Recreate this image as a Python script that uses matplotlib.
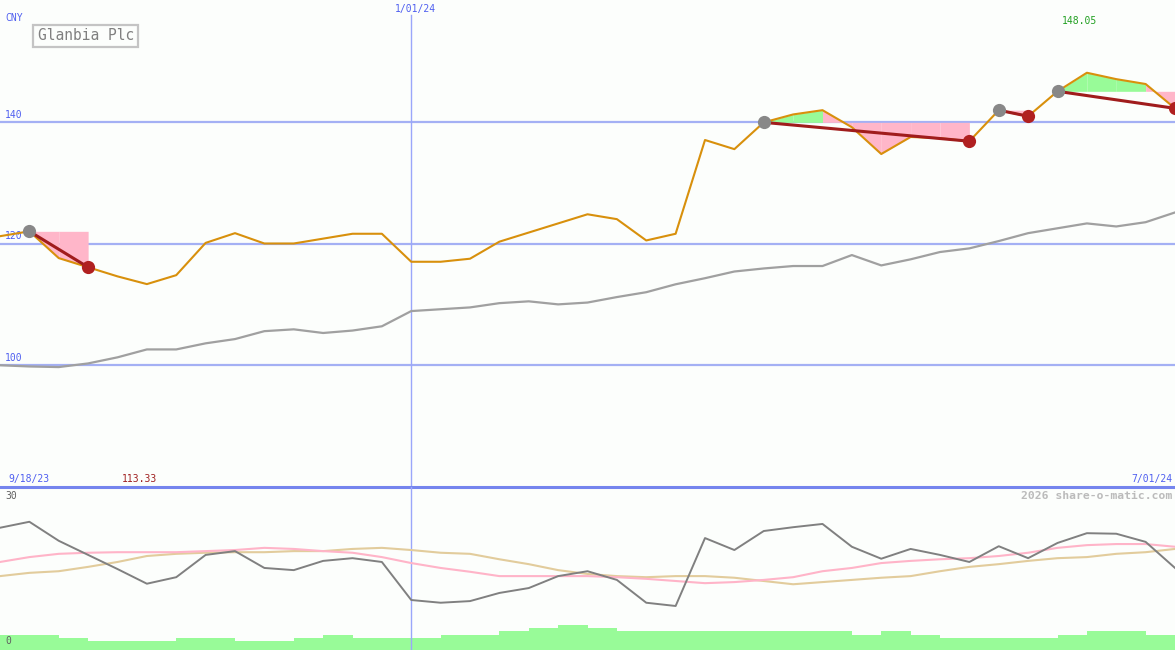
import matplotlib
matplotlib.use("Agg")
import matplotlib.pyplot as plt
import matplotlib.transforms as mtransforms
from matplotlib.patches import Rectangle
import numpy as np

# ---------------- data ----------------
title = "Glanbia Plc"
currency = "CNY"
date_labels = ["9/18/23", "1/01/24", "7/01/24"]
year_start_index = 14

price = [121.2, 122.0, 117.6, 116.1, 114.6, 113.33, 114.8, 120.1, 121.7, 120.0,
         120.0, 120.8, 121.6, 121.6, 117.0, 117.0, 117.5, 120.3, 121.8, 123.3,
         124.8, 124.0, 120.5, 121.6, 137.0, 135.5, 139.9, 141.2, 141.9, 139.1,
         134.7, 137.5, 137.3, 136.8, 141.9, 140.9, 145.0, 148.05, 147.0, 146.2,
         142.2]

index_line = [100.0, 99.8, 99.7, 100.3, 101.3, 102.6, 102.6, 103.6, 104.3, 105.6,
              105.9, 105.3, 105.7, 106.4, 108.9, 109.2, 109.5, 110.2, 110.5, 110.0,
              110.3, 111.2, 112.0, 113.3, 114.3, 115.4, 115.9, 116.3, 116.3, 118.1,
              116.4, 117.4, 118.6, 119.2, 120.4, 121.7, 122.5, 123.3, 122.8, 123.5,
              125.1]

# trades: (entry index, exit index)
trades = [(1, 3), (26, 33), (34, 35), (36, 40)]

price_ticks = [100, 120, 140]

osc = [22.5, 23.6, 20.1, 17.5, 14.9, 12.2, 13.4, 17.5, 18.2, 15.1,
       14.7, 16.4, 16.9, 16.2, 9.2, 8.7, 9.0, 10.5, 11.4, 13.6,
       14.5, 12.9, 8.7, 8.1, 20.6, 18.4, 21.9, 22.6, 23.2, 19.0,
       16.8, 18.6, 17.5, 16.2, 19.1, 16.9, 19.7, 21.5, 21.4, 19.9,
       15.1]

osc_fast = [16.2, 17.1, 17.7, 17.9, 18.0, 18.0, 18.0, 18.2, 18.4, 18.8,
            18.6, 18.2, 17.9, 17.1, 16.0, 15.1, 14.4, 13.6, 13.6, 13.6,
            13.6, 13.4, 13.1, 12.7, 12.3, 12.5, 12.9, 13.4, 14.5, 15.1,
            16.0, 16.4, 16.7, 16.9, 17.3, 17.9, 18.8, 19.3, 19.5, 19.5,
            19.0]

osc_slow = [13.6, 14.2, 14.5, 15.3, 16.2, 17.3, 17.7, 17.9, 18.0, 18.0,
            18.2, 18.2, 18.6, 18.8, 18.4, 17.9, 17.7, 16.7, 15.8, 14.7,
            14.0, 13.6, 13.4, 13.6, 13.6, 13.3, 12.7, 12.1, 12.5, 12.9,
            13.3, 13.6, 14.5, 15.3, 15.8, 16.4, 16.9, 17.1, 17.7, 18.0,
            18.6]

volume = [15, 15, 12, 9, 9, 9, 12, 12, 9, 9, 12, 15, 12, 12, 12, 15, 15, 19, 22, 25,
          22, 19, 19, 19, 19, 19, 19, 19, 19, 15, 19, 15, 12, 12, 12, 12, 15, 19, 19, 15]

osc_ticks = [0, 30]
watermark = "2026 share-o-matic.com"

# ---------------- style ----------------
BG = "#fcfefc"
GRID = "#a4b0f4"
VLINE = "#9aa6fa"
SEP = "#7585ee"
LBL = "#4f5ff0"
ORANGE = "#d8900c"
GREY = "#a0a0a0"
TRADE = "#a01c1c"
PINK = "#ffb6c9"
GREEN = "#98fb98"
FONT = "DejaVu Sans Mono"

W, H = 1175, 650
top_h, bot_h = 487, 163

fig = plt.figure(figsize=(W / 100, H / 100), dpi=100, facecolor=BG)
ax = fig.add_axes([0, bot_h / H, 1, top_h / H])
ax2 = fig.add_axes([0, 0, 1, bot_h / H])
for a in (ax, ax2):
    a.set_facecolor(BG)
    a.set_axis_off()
    a.set_xlim(0, len(price) - 1)

x = np.arange(len(price))
p = np.array(price)

ax.set_ylim(80, 160)
ax2.set_ylim(0, 30)

# grid
for t in price_ticks:
    ax.axhline(t, color=GRID, lw=1.6, zorder=1)
    ax.text(0.004, t + 0.35, str(t), transform=mtransforms.blended_transform_factory(ax.transAxes, ax.transData),
            color=LBL, fontsize=7, family=FONT, va="bottom", ha="left")
ax.axhline(80, color=SEP, lw=2.2, zorder=6, clip_on=False)

# vertical year line
ax.plot([year_start_index, year_start_index], [80, 160 - 15 / (top_h / 80)], color=VLINE, lw=1.0, zorder=1)
ax2.axvline(year_start_index, color=VLINE, lw=1.0, zorder=1)

# trade fills
for s, e in trades:
    lvl = p[s]
    for i in range(s, e):
        col = GREEN if p[i + 1] >= lvl else PINK
        ax.fill_between([x[i], x[i + 1]], [lvl, lvl], [p[i], p[i + 1]], color=col, lw=0, zorder=2)

ax.plot(x, index_line, color=GREY, lw=1.6, zorder=3)
ax.plot(x, p, color=ORANGE, lw=1.5, zorder=4)

for s, e in trades:
    ax.plot([x[s], x[e]], [p[s], p[e]], color=TRADE, lw=2.2, zorder=5, solid_capstyle="butt")
    ax.plot(x[s], p[s], "o", ms=9.5, color="#888888", zorder=6, mec="none")
    ax.plot(x[e], p[e], "o", ms=9.5, color="#b02020", zorder=6, mec="none")

# labels
blend = mtransforms.blended_transform_factory(ax.transData, ax.transAxes)
imax = int(np.argmax(p)); imin = int(np.argmin(p))
ax.text(imax - 0.25, 1 - 21 / top_h, f"{p[imax]:.2f}", transform=blend, color="#22a022",
        fontsize=7, family=FONT, ha="center", va="center")
ax.text(imin - 0.25, 8 / top_h, f"{p[imin]:.2f}", transform=blend, color="#a02020",
        fontsize=7, family=FONT, ha="center", va="center")

ax.text(5 / W, 1 - 18 / top_h, currency, transform=ax.transAxes, color=LBL, fontsize=7, family=FONT, va="center")
ax.text(year_start_index + 0.15, 1 - 9 / top_h, date_labels[1], transform=blend, color=LBL, fontsize=7,
        family=FONT, ha="center", va="center")
ax.text(8 / W, 8 / top_h, date_labels[0], transform=ax.transAxes, color=LBL, fontsize=7, family=FONT, va="center")
ax.text(1 - 3 / W, 8 / top_h, date_labels[2], transform=ax.transAxes, color=LBL, fontsize=7, family=FONT,
        va="center", ha="right")

# title box
fig.patches.append(Rectangle((33 / W, 1 - 47 / H), 105 / W, 22 / H, transform=fig.transFigure,
                             fill=False, edgecolor="#c4c4c4", lw=1.6))
fig.text(86 / W, 1 - 36 / H, title, color="#808080", fontsize=10.5, family=FONT, ha="center", va="center")

# lower panel
vx = np.arange(len(volume))
axv = ax2.twinx()
axv.set_axis_off()
axv.set_ylim(0, bot_h)
axv.bar(vx, volume, width=1.0, align="edge", color=GREEN, lw=0, zorder=2)
ax2.set_zorder(axv.get_zorder() + 1)
ax2.patch.set_visible(False)
fig.patch.set_facecolor(BG)

ax2.plot(x, osc_slow, color="#e2cc9c", lw=1.5, zorder=3)
ax2.plot(x, osc_fast, color="#ffb4c8", lw=1.5, zorder=3)
ax2.plot(x, osc, color="#808080", lw=1.4, zorder=4)

ax2.text(5 / W, 1 - 9 / bot_h, str(osc_ticks[1]), transform=ax2.transAxes, color="#606060", fontsize=7,
         family=FONT, va="center")
ax2.text(5 / W, 9 / bot_h, str(osc_ticks[0]), transform=ax2.transAxes, color="#606060", fontsize=7,
         family=FONT, va="center")
ax2.text(1 - 3 / W, 1 - 9 / bot_h, watermark, transform=ax2.transAxes, color="#bbbbbb", fontsize=8.2,
         family=FONT, weight="bold", va="center", ha="right")

fig.savefig("out.png", dpi=100, facecolor=BG)
